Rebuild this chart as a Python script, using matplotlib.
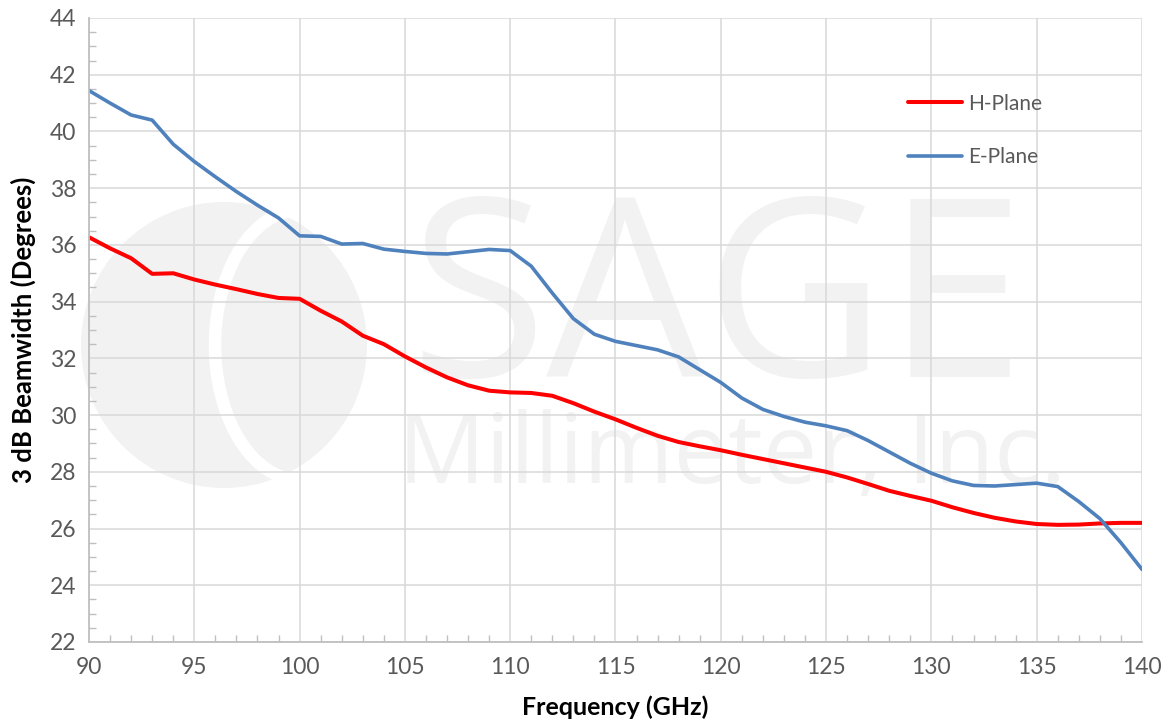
import matplotlib
matplotlib.use("Agg")
import matplotlib.pyplot as plt
from matplotlib.patches import Circle, Arc
from matplotlib.ticker import MultipleLocator

# frequency points (GHz)
freq = list(range(90, 141))

h_plane = [36.27, 35.88, 35.53, 34.98, 35.00, 34.78, 34.60, 34.44, 34.27, 34.13,
           34.10, 33.68, 33.30, 32.80, 32.50, 32.07, 31.68, 31.33, 31.05, 30.86,
           30.80, 30.78, 30.68, 30.42, 30.12, 29.85, 29.55, 29.27, 29.05, 28.90,
           28.76, 28.60, 28.45, 28.30, 28.15, 28.00, 27.80, 27.57, 27.33, 27.15,
           26.98, 26.75, 26.55, 26.38, 26.25, 26.16, 26.13, 26.14, 26.18, 26.20,
           26.20]

e_plane = [41.44, 41.00, 40.58, 40.40, 39.55, 38.94, 38.40, 37.88, 37.40, 36.95,
           36.32, 36.30, 36.03, 36.05, 35.85, 35.77, 35.70, 35.68, 35.76, 35.84,
           35.80, 35.25, 34.30, 33.40, 32.85, 32.60, 32.45, 32.30, 32.05, 31.60,
           31.15, 30.60, 30.20, 29.95, 29.75, 29.62, 29.45, 29.10, 28.70, 28.30,
           27.95, 27.68, 27.52, 27.50, 27.55, 27.60, 27.48, 26.95, 26.35, 25.50,
           24.56]

W, H = 1167, 728
fig = plt.figure(figsize=(W / 100, H / 100), dpi=100)
plt.rcParams['font.family'] = ['Lato', 'DejaVu Sans']

# watermark layer (pixel coordinates)
bg = fig.add_axes([0, 0, 1, 1], zorder=0)
bg.set_xlim(0, W)
bg.set_ylim(H, 0)
bg.set_aspect('equal')
bg.axis('off')
wm = '#f2f2f2'
bg.add_patch(Circle((224, 345), 143, color=wm, lw=0))
bg.add_patch(Arc((300, 345), 170, 270, theta1=95, theta2=265, color='white', lw=9))
bg.text(717, 377, 'SAGE', fontsize=180, color=wm, ha='center', va='baseline',
        family='Open Sans')
bg.text(732, 483, 'Millimeter, Inc.', fontsize=70, color=wm, ha='center', va='baseline',
        family='Open Sans')

ax = fig.add_axes([89 / W, 1 - 642 / H, (1142 - 89) / W, (642 - 18) / H], zorder=1)
ax.patch.set_alpha(0)

ax.plot(freq, h_plane, color='#ff0000', lw=2.9, label='H-Plane', solid_capstyle='round')
ax.plot(freq, e_plane, color='#4f81bd', lw=2.6, label='E-Plane', solid_capstyle='round')

ax.set_xlim(90, 140)
ax.set_ylim(22, 44)
ax.xaxis.set_major_locator(MultipleLocator(5))
ax.xaxis.set_minor_locator(MultipleLocator(1))
ax.yaxis.set_major_locator(MultipleLocator(2))
ax.yaxis.set_minor_locator(MultipleLocator(0.5))
ax.grid(True, which='major', color='#d9d9d9', lw=1.1)
ax.set_axisbelow(True)

for s in ['top', 'right']:
    ax.spines[s].set_visible(False)
for s in ['left', 'bottom']:
    ax.spines[s].set_color('#bfbfbf')
    ax.spines[s].set_linewidth(1.3)

ax.tick_params(which='major', length=0, labelsize=16.5, labelcolor='#595959', pad=9)
ax.tick_params(which='minor', direction='in', length=5, color='#bfbfbf', width=1)
ax.tick_params(axis='x', which='major', pad=11)

ax.set_xlabel('Frequency (GHz)', fontsize=18, fontweight='bold', labelpad=12)
ax.set_ylabel('3 dB Beamwidth (Degrees)', fontsize=18.5, fontweight='bold', labelpad=10)

ax.legend(loc='upper left', bbox_to_anchor=(0.76, 0.909), frameon=False, fontsize=15,
          handlelength=2.6, handletextpad=0.3, labelspacing=1.6, labelcolor='#595959')

plt.savefig('out.png', dpi=100)
